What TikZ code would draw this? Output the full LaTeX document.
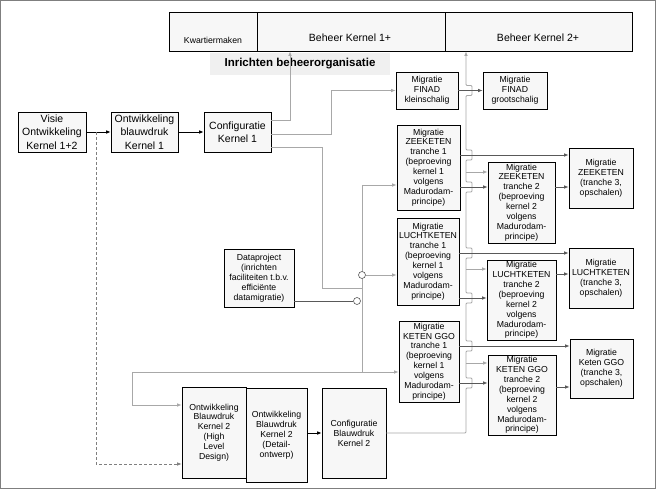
\documentclass[tikz,border=0pt]{standalone}
\usepackage{fontspec}
\setmainfont{Liberation Sans}
\usetikzlibrary{arrows.meta}
\definecolor{boxfill}{HTML}{F7F7F7}
\definecolor{lg}{HTML}{A8A8A8}
\definecolor{dg}{HTML}{595959}
\definecolor{framec}{HTML}{7F7F7F}
\definecolor{titlebg}{HTML}{F0F0F0}
\begin{document}
\begin{tikzpicture}[x=1pt,y=-1pt,
 box/.style={draw=black,line width=0.6pt,fill=boxfill,align=center,inner sep=0pt,font=\fontsize{8.7}{9.9}\selectfont},
 bigbox/.style={box,font=\fontsize{10.5}{13.5}\selectfont},
 plain/.style={inner sep=0pt,font=\fontsize{8.7}{10}\selectfont},
 tip/.style={-{Latex[length=4.5pt,width=3.6pt]}},
 lgline/.style={draw=lg,line width=0.8pt},
 dgline/.style={draw=dg,line width=0.8pt},
 blk/.style={draw=black,line width=0.9pt},
 dashline/.style={draw=framec,line width=0.7pt,dash pattern=on 3pt off 2pt},
 circ/.style={circle,draw=dg,fill=white,inner sep=0pt,minimum size=7pt,line width=0.6pt}]
\useasboundingbox (0,0) rectangle (656,489);
\draw[framec,line width=1pt] (0.5,0.5) rectangle (655,488);

% top bar
\node[box,minimum width=88pt,minimum height=39pt] (kw) at (213,31.5) {};
\node[box,minimum width=188pt,minimum height=39pt] (b1) at (351,31.5) {};
\node[box,minimum width=187pt,minimum height=39pt] (b2) at (538.5,31.5) {};
\node[plain] (kwt) at (213,40) {Kwartiermaken};
\node[plain,font=\fontsize{10.5}{12}\selectfont] (b1t) at (350,38) {Beheer Kernel 1+};
\node[plain,font=\fontsize{10.5}{12}\selectfont] (b2t) at (538,38) {Beheer Kernel 2+};
\node[fill=titlebg,minimum width=180pt,minimum height=22pt,inner sep=0pt,font=\bfseries\fontsize{11.5}{13}\selectfont] (title) at (300,64) {Inrichten beheerorganisatie};

% left chain
\node[bigbox,minimum width=68pt,minimum height=40pt] (visie) at (52,132) {Visie\\Ontwikkeling\\Kernel 1+2};
\node[bigbox,minimum width=67pt,minimum height=40pt] (owb1) at (144.5,132) {Ontwikkeling\\blauwdruk\\Kernel 1};
\node[bigbox,minimum width=67pt,minimum height=40pt] (ck1) at (237.5,132) {Configuratie\\Kernel 1};

% FINAD
\node[box,minimum width=62pt,minimum height=37pt] (fkl) at (427,90.5) {Migratie\\FINAD\\kleinschalig};
\node[box,minimum width=64pt,minimum height=37pt] (fgr) at (515,90.5) {Migratie\\FINAD\\grootschalig};

% tranche 1
\node[box,minimum width=63pt,minimum height=85pt] (z1) at (428.5,167.5) {Migratie\\ZEEKETEN\\tranche 1\\(beproeving\\kernel 1\\volgens\\Madurodam-\\principe)};
\node[box,minimum width=62pt,minimum height=87pt] (l1) at (428,261.5) {Migratie\\LUCHTKETEN\\tranche 1\\(beproeving\\kernel 1\\volgens\\Madurodam-\\principe)};
\node[box,minimum width=60pt,minimum height=81pt] (g1) at (429,361.5) {Migratie\\KETEN GGO\\tranche 1\\(beproeving\\kernel 1\\volgens\\Madurodam-\\principe)};

% tranche 2
\node[box,minimum width=67pt,minimum height=81pt] (z2) at (521.5,202.5) {Migratie\\ZEEKETEN\\tranche 2\\(beproeving\\kernel 2\\volgens\\Madurodam-\\principe)};
\node[box,minimum width=69pt,minimum height=80pt] (l2) at (521.5,300) {Migratie\\LUCHTKETEN\\tranche 2\\(beproeving\\kernel 2\\volgens\\Madurodam-\\principe)};
\node[box,minimum width=68pt,minimum height=80pt] (g2) at (522,395) {Migratie\\KETEN GGO\\tranche 2\\(beproeving\\kernel 2\\volgens\\Madurodam-\\principe)};

% tranche 3
\node[box,minimum width=64pt,minimum height=60pt] (z3) at (601,178) {Migratie\\ZEEKETEN\\(tranche 3,\\opschalen)};
\node[box,minimum width=64pt,minimum height=60pt] (l3) at (601,278) {Migratie\\LUCHTKETEN\\(tranche 3,\\opschalen)};
\node[box,minimum width=63pt,minimum height=59pt] (g3) at (601.5,368.5) {Migratie\\Keten GGO\\(tranche 3,\\opschalen)};

% dataproject and kernel 2
\node[box,minimum width=70pt,minimum height=58pt] (dp) at (259,278) {Dataproject\\(inrichten\\faciliteiten t.b.v.\\efficiënte\\datamigratie)};
\node[box,minimum width=64pt,minimum height=91pt] (hld) at (214,432.5) {Ontwikkeling\\Blauwdruk\\Kernel 2\\(High\\Level\\Design)};
\node[box,minimum width=61pt,minimum height=94pt] (det) at (276.5,435) {Ontwikkeling\\Blauwdruk\\Kernel 2\\(Detail-\\ontwerp)};
\node[box,minimum width=64pt,minimum height=90pt] (cbk2) at (354,433) {Configuratie\\Blauwdruk\\Kernel 2};

% black arrows
\draw[blk,tip] (visie.east) -- (owb1.west);
\draw[blk,tip] (owb1.east) -- (ck1.west);
\draw[blk,tip] (det.east |- 0,433) -- (cbk2.west |- 0,433);

% dashed
\coordinate (d1) at (96,132);
\draw[dashline,tip] (d1) -- (96,464) -- (hld.west |- 0,464);

% from Configuratie Kernel 1
\draw[lgline,tip] (ck1.east |- 0,120) -- (290,120) -- (290,0 |- b1.south);
\draw[lgline,tip] (ck1.east |- 0,134) -- (331,134) -- (331,90.5) -- (fkl.west);
\draw[lgline] (ck1.east |- 0,147) -- (322,147) -- (322,288) -- (362,288);

% trunk 1
\coordinate (t1a) at (362,185);
\coordinate (t1b) at (362,372);
\draw[lgline] (t1a) -- (t1b);
\draw[lgline,tip] (t1a) -- (z1.west |- t1a);
\node[circ] (c1) at (362,275) {};
\node[circ] (c2) at (357,301) {};
\draw[lgline,tip] (c1.east) -- (l1.west |- c1);
\draw[dgline] (dp.east |- c2) -- (c2.west);
\draw[lgline,tip] (t1b) -- (g1.west |- t1b);
\draw[lgline,tip] (t1b) -- (132,372) -- (132,405) -- (hld.west |- 0,405);

% trunk 2 with line jumps
\draw[lgline,tip,rounded corners=1pt] (cbk2.east |- 0,433) -- (466,433)
 -- (466,388) -- (472,388) -- (472,378) -- (466,378)
 -- (466,351) -- (472,351) -- (472,341) -- (466,341)
 -- (466,303) -- (472,303) -- (472,293) -- (466,293)
 -- (466,258) -- (472,258) -- (472,248) -- (466,248)
 -- (466,192) -- (472,192) -- (472,182) -- (466,182)
 -- (466,160) -- (472,160) -- (472,150) -- (466,150)
 -- (466,95.5) -- (472,95.5) -- (472,85.5) -- (466,85.5)
 -- (466,0 |- b2.south);
\draw[lgline,tip] (466,172) -- (z2.west |- 0,172);
\draw[lgline,tip] (466,269) -- (l2.west |- 0,269);
\draw[lgline,tip] (466,363) -- (g2.west |- 0,363);

% dark migration arrows
\draw[dgline,tip] (fkl.east) -- (fgr.west);
\draw[dgline,tip] (z1.east |- 0,155) -- (z3.west |- 0,155);
\draw[dgline,tip] (z1.east |- 0,187) -- (z2.west |- 0,187);
\draw[dgline,tip] (l1.east |- 0,253) -- (l3.west |- 0,253);
\draw[dgline,tip] (l1.east |- 0,298) -- (l2.west |- 0,298);
\draw[dgline,tip] (g1.east |- 0,346) -- (g3.west |- 0,346);
\draw[dgline,tip] (g1.east |- 0,383) -- (g2.west |- 0,383);
\draw[dgline,tip] (z2.east |- 0,187) -- (z3.west |- 0,187);
\draw[dgline,tip] (l2.east |- 0,274) -- (l3.west |- 0,274);
\draw[dgline,tip] (g2.east |- 0,387) -- (g3.west |- 0,387);
\end{tikzpicture}
\end{document}
